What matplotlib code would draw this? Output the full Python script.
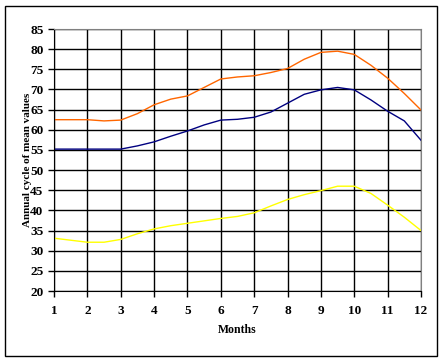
import matplotlib
matplotlib.use("Agg")
import matplotlib.pyplot as plt
from matplotlib.patches import Rectangle

months = [1, 1.5, 2, 2.5, 3, 3.5, 4, 4.5, 5, 5.5, 6, 6.5, 7, 7.5, 8, 8.5, 9, 9.5, 10, 10.5, 11, 11.5, 12]
orange_vals = [62.5, 62.5, 62.5, 62.2, 62.4, 64.0, 66.2, 67.6, 68.4, 70.5, 72.6, 73.1, 73.4, 74.2, 75.2, 77.5, 79.2, 79.5, 78.7, 76.0, 72.8, 69.0, 64.9]
navy_vals = [55.2, 55.2, 55.2, 55.2, 55.2, 56.0, 57.0, 58.4, 59.7, 61.2, 62.4, 62.6, 63.1, 64.4, 66.6, 68.8, 69.9, 70.5, 69.9, 67.4, 64.6, 62.2, 57.4]
yellow_vals = [33.1, 32.6, 32.1, 32.1, 32.8, 34.2, 35.4, 36.2, 36.8, 37.4, 38.0, 38.5, 39.4, 41.1, 42.7, 43.9, 44.9, 46.0, 46.0, 44.2, 41.3, 38.3, 35.0]
xticks = list(range(1, 13))
yticks = list(range(20, 90, 5))

fig = plt.figure(figsize=(4.44, 3.63), dpi=100)
fig.patch.set_facecolor("white")
fig.patches.append(Rectangle((5/444, 1-356/363), (437-5)/444, (356-6)/363,
                             transform=fig.transFigure, fill=False,
                             edgecolor="black", linewidth=1.0))

ax = fig.add_axes([54/444, 1-291/363, (421-54)/444, (291-29)/363])
ax.plot(months, orange_vals, color="#FF6600", linewidth=1.0)
ax.plot(months, navy_vals, color="#000080", linewidth=1.0)
ax.plot(months, yellow_vals, color="#FFFF00", linewidth=1.0)

ax.set_xlim(1, 12)
ax.set_ylim(20, 85)
ax.set_xticks(xticks)
ax.set_yticks(yticks)
ax.grid(True, color="black", linewidth=1.0)
ax.set_axisbelow(True)
for s in ["top", "right"]:
    ax.spines[s].set_color("#808080")
for s in ["left", "bottom"]:
    ax.spines[s].set_color("black")
ax.tick_params(direction="out", length=4, width=1, colors="black")
font = {"family": "Liberation Serif", "weight": "bold"}
for lab in ax.get_xticklabels() + ax.get_yticklabels():
    lab.set_fontfamily("Liberation Serif")
    lab.set_fontweight("bold")
    lab.set_fontsize(9.5)
ax.tick_params(axis="x", pad=6)
ax.set_xlabel("Months", fontdict=font, fontsize=8.5, labelpad=5)
ax.set_ylabel("Annual cycle of mean values", fontdict=font, fontsize=8, labelpad=-1)

fig.savefig("out.png", dpi=100, facecolor="white")
